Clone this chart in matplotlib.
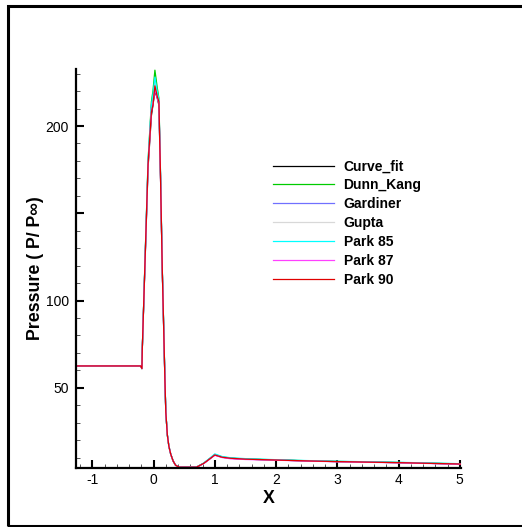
import matplotlib
matplotlib.use("Agg")
import matplotlib.pyplot as plt
from matplotlib.patches import Rectangle
from matplotlib.ticker import MultipleLocator

plt.rcParams['font.family'] = ['Liberation Sans', 'DejaVu Sans']
plt.rcParams['axes.unicode_minus'] = False

x = [-1.27, -0.5, -0.21, -0.19, -0.185, -0.09, -0.035, -0.01, 0.022, 0.06, 0.087,
     0.114, 0.142, 0.16, 0.185, 0.2, 0.225, 0.25, 0.28, 0.32, 0.36, 0.42,
     0.7, 0.82, 0.93, 1.0, 1.12, 1.26, 1.5, 2.0, 2.5, 3.0, 3.5, 4.0, 4.5, 5.03]

curve_fit = [62.5, 62.5, 62.5, 61, 71, 176, 206, 212, 220, 216, 212,
             170, 118, 92, 55, 36, 23, 16.5, 12, 8, 5.6, 4.5,
             4.5, 6.7, 9.6, 11.5, 10.2, 9.6, 9.1, 8.6, 8.1, 7.7, 7.4, 7.1, 6.7, 6.3]
dunn_kang = [62.5, 62.5, 62.5, 61, 71, 180, 214, 220, 232, 222, 216,
             172, 119, 93, 56, 36, 23, 16.5, 12, 8, 5.6, 4.5,
             4.5, 6.8, 9.8, 11.8, 10.4, 9.7, 9.2, 8.7, 8.2, 7.8, 7.5, 7.2, 6.8, 6.4]
gardiner = [62.5, 62.5, 62.5, 61, 71, 178, 212, 215, 224, 218, 213,
            171, 118, 92, 55, 36, 23, 16.5, 12, 8, 5.6, 4.5,
            4.5, 6.7, 9.7, 11.6, 10.3, 9.6, 9.1, 8.6, 8.1, 7.7, 7.4, 7.1, 6.7, 6.3]
gupta = [62.5, 62.5, 62.5, 61, 71, 178, 210, 214, 224, 218, 214,
         171, 118, 92, 55, 36, 23, 16.5, 12, 8, 5.6, 4.5,
         4.5, 6.7, 9.7, 11.6, 10.3, 9.6, 9.1, 8.6, 8.1, 7.7, 7.4, 7.1, 6.7, 6.3]
park85 = [62.5, 62.5, 62.5, 61, 71, 180, 212, 218, 228, 220, 215,
          172, 119, 93, 56, 36, 23, 16.5, 12, 8, 5.6, 4.5,
          4.5, 6.9, 10.0, 12.1, 10.6, 9.9, 9.4, 8.8, 8.3, 7.9, 7.6, 7.3, 6.9, 6.5]
park87 = [62.5, 62.5, 62.5, 61, 71, 177, 208, 212, 221, 216, 213,
          170, 118, 92, 55, 36, 23, 16.5, 12, 8, 5.6, 4.5,
          4.5, 6.6, 9.5, 11.3, 10.0, 9.3, 8.9, 8.5, 8.0, 7.6, 7.3, 7.0, 6.6, 6.2]
park90 = [62.5, 62.5, 62.5, 61, 71, 178, 208, 212, 223, 217, 214,
          170, 118, 92, 55, 36, 23, 16.5, 12, 8, 5.6, 4.5,
          4.5, 6.7, 9.6, 11.5, 10.2, 9.6, 9.1, 8.6, 8.1, 7.7, 7.4, 7.1, 6.7, 6.3]

labels = ['Curve_fit', 'Dunn_Kang', 'Gardiner', 'Gupta', 'Park 85', 'Park 87', 'Park 90']
series = [curve_fit, dunn_kang, gardiner, gupta, park85, park87, park90]
colors = ['#000000', '#00cc00', '#7070ff', '#d8d8d8', '#00ffff', '#ff40ff', '#e00000']

y_ticks = [50, 100, 150, 200]
y_tick_labels = ['50', '100', '', '200']

W, H = 522, 527
fig = plt.figure(figsize=(W / 100, H / 100), dpi=100)
ax = fig.add_axes([75.6 / W, 1 - 467.7 / H, (461 - 75.6) / W, (467.7 - 69.3) / H])

for s, c, lab in zip(series, colors, labels):
    ax.plot(x, s, color=c, lw=0.9, label=lab)

ax.set_xlim(-1.273, 5.02)
ax.set_ylim(4.2, 232.5)
ax.xaxis.set_major_locator(MultipleLocator(1))
ax.xaxis.set_minor_locator(MultipleLocator(0.2))
ax.yaxis.set_minor_locator(MultipleLocator(10))
ax.set_yticks(y_ticks)
ax.set_yticklabels(y_tick_labels)

for side in ['top', 'right']:
    ax.spines[side].set_visible(False)
for side in ['left', 'bottom']:
    ax.spines[side].set_linewidth(1.6)

ax.tick_params(which='major', direction='in', length=6, width=1.5, labelsize=10, pad=4)
ax.tick_params(axis='y', which='major', pad=5)
ax.tick_params(which='minor', direction='in', length=3, width=0.7, color='#555555')

ax.set_xlabel('X', fontsize=12.8, fontweight='bold', labelpad=2)
ax.set_ylabel('Pressure ( P/ P∞)', fontsize=12.8, fontweight='bold', labelpad=1)

leg = ax.legend(loc='upper left', bbox_to_anchor=(260 / W, 1 - 147 / H),
                bbox_transform=fig.transFigure, frameon=False,
                handlelength=4.4, handletextpad=0.72, labelspacing=0.35,
                prop={'weight': 'bold', 'size': 10})

fig.patches.append(Rectangle((7.5 / W, 1.5 / H), 1.1, (521.5 - 1.5) / H,
                             transform=fig.transFigure, fill=False,
                             edgecolor='black', lw=2.2))

fig.savefig('out.png', dpi=100)
